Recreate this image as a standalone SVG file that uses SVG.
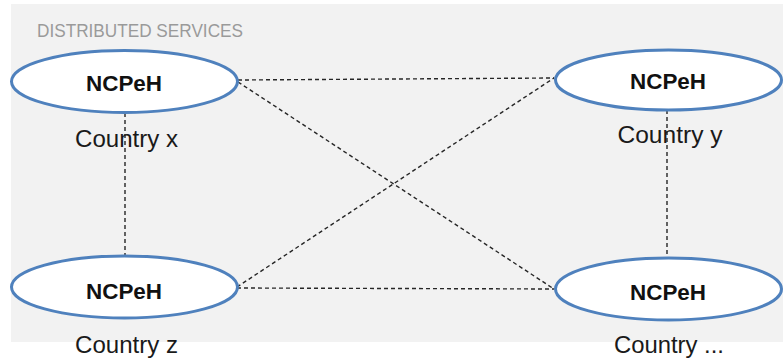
<svg xmlns="http://www.w3.org/2000/svg" width="783" height="360" viewBox="0 0 783 360">
<style>
.node{fill:#ffffff;stroke:#4f81bd;stroke-width:3}
.title{font-family:"Liberation Sans",Arial,sans-serif;font-weight:bold;font-size:22px;fill:#111111;text-anchor:middle}
.label{font-family:"Liberation Sans",Arial,sans-serif;font-size:23px;fill:#1a1a1a;text-anchor:middle}
.conn{stroke:#262626;stroke-width:1.4;stroke-dasharray:4 3;fill:none}
</style>
<rect x="0" y="0" width="783" height="360" fill="#ffffff"/>
<rect x="11" y="4" width="772" height="338" fill="#f2f2f2"/>
<text x="37" y="37" font-family="'Liberation Sans',Arial,sans-serif" font-size="18" fill="#9a9a9a" textLength="206" lengthAdjust="spacingAndGlyphs">DISTRIBUTED SERVICES</text>
<g id="connectors">
<line class="conn" x1="125" y1="113" x2="125" y2="255"/>
<line class="conn" x1="667" y1="110" x2="667" y2="257"/>
<line class="conn" x1="238" y1="80" x2="554" y2="78"/>
<line class="conn" x1="238" y1="82" x2="554" y2="289"/>
<line class="conn" x1="237" y1="287" x2="554" y2="78"/>
<line class="conn" x1="237" y1="288" x2="554" y2="289"/>
</g>
<g id="node-x">
<ellipse class="node" cx="124.5" cy="81.5" rx="113" ry="31"/>
<text class="title" x="124" y="91" textLength="76" lengthAdjust="spacingAndGlyphs">NCPeH</text>
<text class="label" x="126.5" y="147" textLength="103" lengthAdjust="spacingAndGlyphs">Country x</text>
</g>
<g id="node-y">
<ellipse class="node" cx="668.5" cy="80" rx="113" ry="30"/>
<text class="title" x="668" y="89" textLength="76" lengthAdjust="spacingAndGlyphs">NCPeH</text>
<text class="label" x="670" y="143" textLength="105" lengthAdjust="spacingAndGlyphs">Country y</text>
</g>
<g id="node-z">
<ellipse class="node" cx="124.5" cy="287" rx="113" ry="31"/>
<text class="title" x="124" y="299" textLength="76" lengthAdjust="spacingAndGlyphs">NCPeH</text>
<text class="label" x="126.5" y="353" textLength="103" lengthAdjust="spacingAndGlyphs">Country z</text>
</g>
<g id="node-n">
<ellipse class="node" cx="668.5" cy="289" rx="113" ry="31"/>
<text class="title" x="668" y="300" textLength="76" lengthAdjust="spacingAndGlyphs">NCPeH</text>
<text class="label" x="669" y="353" textLength="110" lengthAdjust="spacingAndGlyphs">Country ...</text>
</g>
</svg>
